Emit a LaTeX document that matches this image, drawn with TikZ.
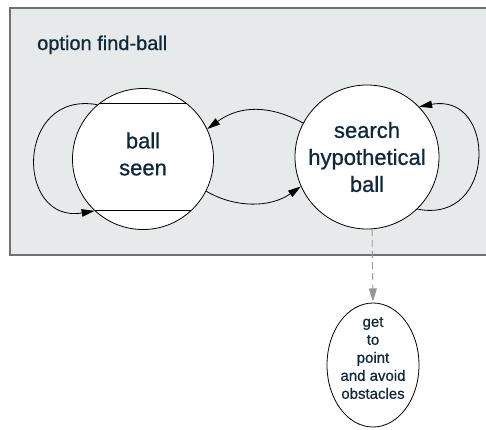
\documentclass[tikz,border=0pt]{standalone}
\usepackage{fontspec}
\setmainfont[FakeBold=0.8]{Liberation Sans}
\usetikzlibrary{arrows.meta,shapes.geometric}
\definecolor{panel}{RGB}{231,234,234}
\definecolor{ink}{RGB}{16,40,60}
\definecolor{frame}{RGB}{112,112,112}
\definecolor{linkgray}{RGB}{150,150,150}
\begin{document}
\begin{tikzpicture}[x=1pt,y=-1pt,
  state/.style={circle,draw=black,fill=white,line width=0.8pt,inner sep=0pt},
  goalshape/.style={ellipse,draw=black,fill=white,line width=0.8pt,inner sep=0pt},
  caption/.style={text=ink,align=center,inner sep=0pt},
  trans/.style={line width=0.8pt,-{Triangle[length=13pt,width=7.5pt]}},
  sublink/.style={draw=linkgray,line width=0.9pt,dash pattern=on 7pt off 4pt,
    -{Triangle[length=13pt,width=8pt,fill=linkgray,sep]}}]
\useasboundingbox (0,0) rectangle (486,429);

% option panel (its right side runs past the page edge)
\fill[panel] (10,8) rectangle (490,255);
\draw[frame,line width=1.4pt] (490,8) -- (10,8) -- (10,255) -- (490,255);
\node[caption,anchor=base west,font=\fontsize{20}{24}\selectfont] (title) at (37,50) {option find-ball};

% states
\node[state,minimum size=141pt] (bs) at (143,159) {};
\node[state,minimum size=144pt] (sh) at (367,157) {};
\draw[line width=0.8pt] (bs.128) -- (bs.52);
\draw[line width=0.8pt] (bs.227) -- (bs.313);
\node[caption,font=\fontsize{22}{27}\selectfont] (bstext) at (143,154) {ball\\seen};
\node[caption,font=\fontsize{22}{27}\selectfont] (shtext) at (367,157) {search\\hypothetical\\ball};

% sub-option
\node[goalshape,minimum width=92pt,minimum height=124pt] (goal) at (373,365) {};
\node[caption,font=\fontsize{15}{18}\selectfont] (goaltext) at (373,358) {get\\to\\point\\and avoid\\obstacles};

% transitions
\draw[trans] (sh.152) .. controls (270,105) and (240,105) .. (bs.25);
\draw[trans] (bs.-27) .. controls (235,208) and (270,208) .. (sh.204);
\draw[trans] (bs.130) .. controls (15,90) and (15,224) .. (bs.227);
\draw[trans] (sh.-46) .. controls (497,225) and (497,92) .. (sh.44);
\draw[sublink] (sh.-86) -- (goal.north);
\end{tikzpicture}
\end{document}
